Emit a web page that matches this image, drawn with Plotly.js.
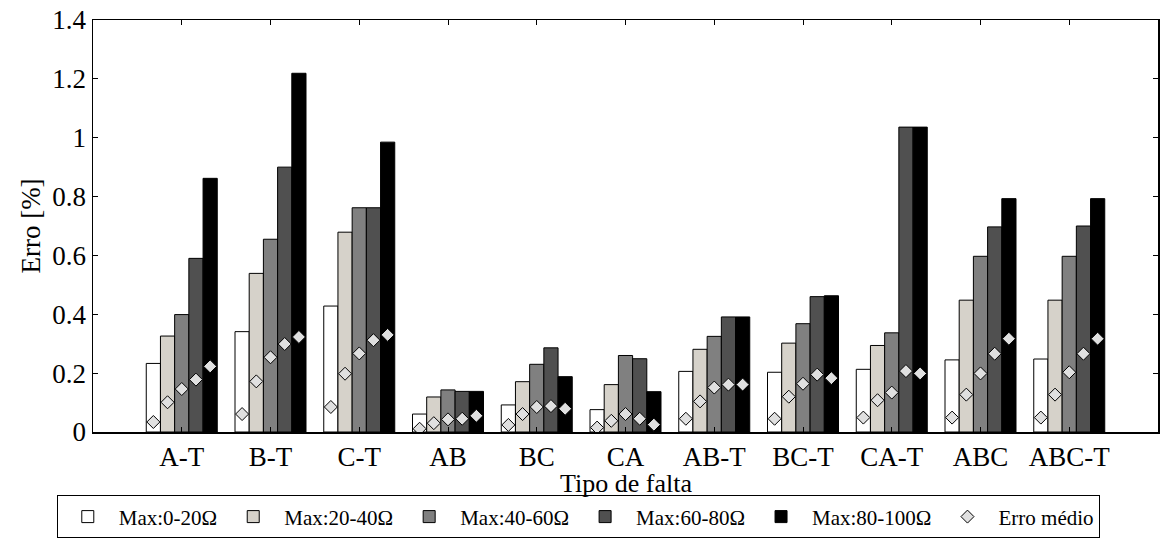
<!DOCTYPE html>
<html>
<head>
<meta charset="utf-8">
<script src="https://cdn.plot.ly/plotly-3.0.1.min.js"></script>
<style>html,body{margin:0;padding:0;background:#fff;}#chart{width:1170px;height:538px;}</style>
</head>
<body>
<div id="chart"></div>
<script>
const categories = ["A-T","B-T","C-T","AB","BC","CA","AB-T","BC-T","CA-T","ABC","ABC-T"];
const seriesNames = ["Max:0-20Ω","Max:20-40Ω","Max:40-60Ω","Max:60-80Ω","Max:80-100Ω"];
const max0_20   = [0.233,0.341,0.428,0.061,0.092,0.076,0.206,0.203,0.213,0.245,0.248];
const max20_40  = [0.326,0.539,0.679,0.119,0.171,0.161,0.281,0.302,0.294,0.448,0.448];
const max40_60  = [0.399,0.655,0.762,0.143,0.230,0.260,0.325,0.368,0.337,0.597,0.597];
const max60_80  = [0.590,0.900,0.762,0.138,0.286,0.249,0.391,0.460,1.036,0.697,0.700];
const max80_100 = [0.862,1.219,0.985,0.138,0.188,0.137,0.391,0.463,1.036,0.793,0.793];
const mean0_20   = [0.034,0.061,0.085,0.011,0.024,0.015,0.045,0.045,0.049,0.049,0.049];
const mean20_40  = [0.101,0.172,0.198,0.030,0.061,0.038,0.104,0.120,0.108,0.127,0.127];
const mean40_60  = [0.146,0.254,0.267,0.043,0.085,0.061,0.151,0.164,0.134,0.199,0.203];
const mean60_80  = [0.178,0.299,0.312,0.045,0.088,0.045,0.161,0.195,0.207,0.266,0.266];
const mean80_100 = [0.223,0.323,0.330,0.055,0.079,0.025,0.161,0.183,0.199,0.317,0.317];
const yTicks = [0,0.2,0.4,0.6,0.8,1,1.2,1.4];
const yTickText = ["0","0.2","0.4","0.6","0.8","1","1.2","1.4"];

const barSeries = [max0_20,max20_40,max40_60,max60_80,max80_100];
const meanSeries = [mean0_20,mean20_40,mean40_60,mean60_80,mean80_100];
const barColors = ["#ffffff","#d6d2ca","#808080","#505050","#000000"];
const xPos = categories.map((c,i)=>i+1);
const groupWidth = 0.8;
const nS = barSeries.length;
const bw = groupWidth / nS;

const FONT = "Liberation Serif";
const traces = [];
barSeries.forEach((vals,j)=>{
  traces.push({
    type:'bar', name: seriesNames[j], x: xPos, y: vals,
    marker:{color: barColors[j], line:{color:'#000', width:1}},
    hoverinfo:'y'
  });
});
meanSeries.forEach((vals,j)=>{
  traces.push({
    type:'scatter', mode:'markers', name:'Erro médio',
    legendgroup:'mean', showlegend: j===0,
    x: xPos.map(x => x - groupWidth/2 + bw*(j+0.5)), y: vals,
    marker:{symbol:'diamond', size:10, color:'#e0e0e0', line:{color:'#000', width:1}}
  });
});

const layout = {
  width:1170, height:538,
  margin:{l:93, r:12, t:20, b:106, autoexpand:false},
  paper_bgcolor:'#fff', plot_bgcolor:'#fff',
  barmode:'group', bargap:0.2, bargroupgap:0,
  font:{family:FONT, size:26, color:'#000'},
  showlegend:true,
  xaxis:{
    range:[0,12], tickvals: xPos, ticktext: categories,
    ticks:'inside', ticklen:5, tickcolor:'#000', mirror:'ticks',
    showline:true, linecolor:'#000', linewidth:1.5,
    showgrid:false, zeroline:false, automargin:false,
    tickfont:{family:FONT, size:27}
  },
  yaxis:{
    range:[0,1.4], tickvals:yTicks, ticktext:yTickText,
    ticks:'inside', ticklen:5, tickcolor:'#000', mirror:'ticks',
    showline:true, linecolor:'#000', linewidth:1.5,
    showgrid:false, zeroline:false, automargin:false,
    tickfont:{family:FONT, size:27},
    title:{text:'Erro [%]', font:{family:FONT, size:27}, standoff:4}
  },
  annotations:[{
    text:'Tipo de falta', xref:'paper', yref:'paper', x:0.5, y:-0.124,
    xanchor:'center', yanchor:'middle', showarrow:false,
    font:{family:FONT, size:26}
  }],
  legend:{
    orientation:'h', x:-0.034, xanchor:'left', y:-0.154, yanchor:'top',
    bordercolor:'#000', borderwidth:1, bgcolor:'#fff',
    font:{family:FONT, size:21}, itemwidth:52, tracegroupgap:0
  }
};
Plotly.newPlot('chart', traces, layout, {staticPlot:true, displayModeBar:false});
</script>
</body>
</html>
